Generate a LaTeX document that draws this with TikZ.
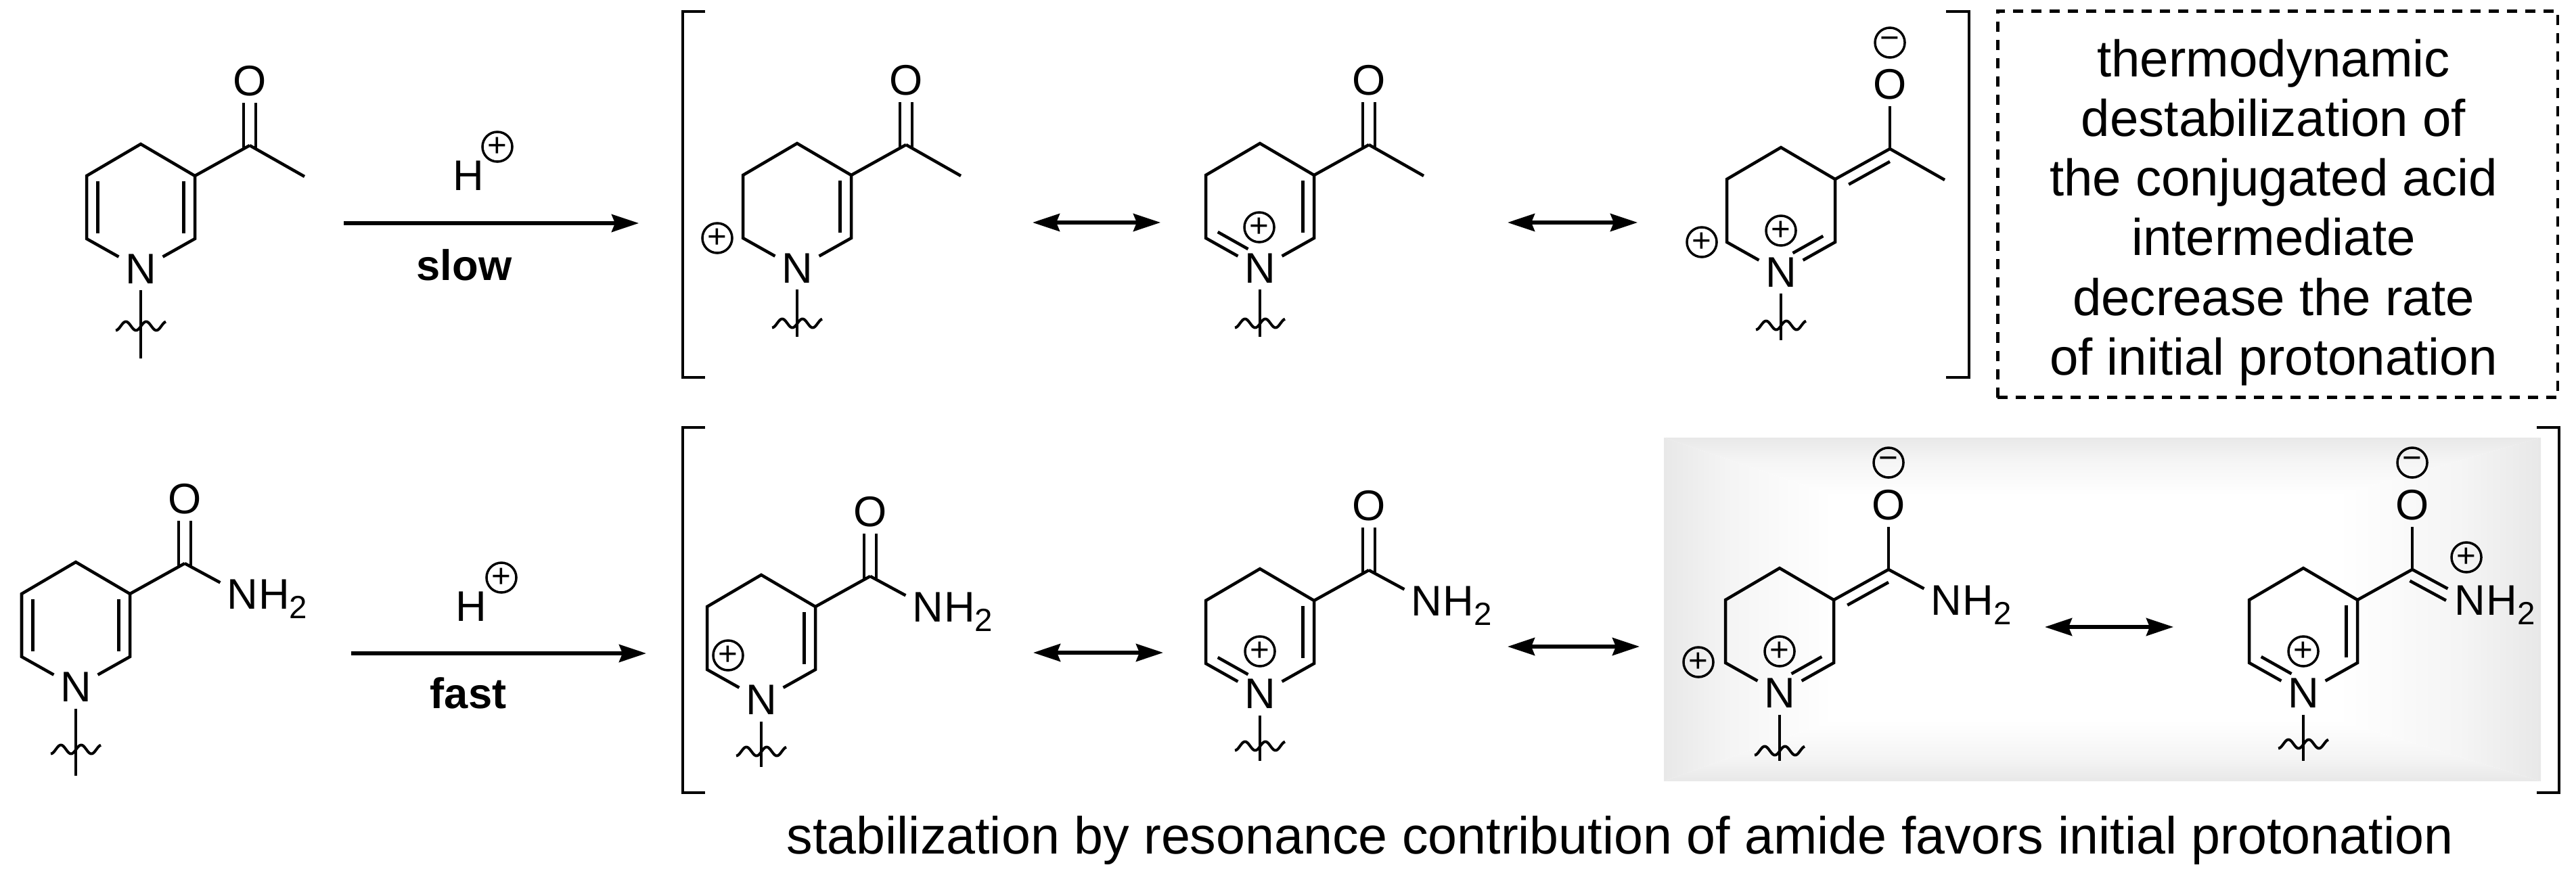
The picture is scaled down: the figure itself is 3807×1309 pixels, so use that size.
\documentclass[tikz,border=0pt]{standalone}
\usepackage{fontspec}
\setmainfont{Liberation Sans}
\usetikzlibrary{arrows.meta,calc}

\pgfdeclarehorizontalshading{edgeleft}{100bp}{rgb(0bp)=(.91,.91,.91);rgb(25bp)=(.91,.91,.91);rgb(45bp)=(.96,.96,.96);rgb(75bp)=(1,1,1);rgb(100bp)=(1,1,1)}
\pgfdeclarehorizontalshading{edgeright}{100bp}{rgb(0bp)=(1,1,1);rgb(25bp)=(1,1,1);rgb(55bp)=(.96,.96,.96);rgb(75bp)=(.91,.91,.91);rgb(100bp)=(.91,.91,.91)}
\pgfdeclareverticalshading{edgetop}{100bp}{rgb(0bp)=(1,1,1);rgb(25bp)=(1,1,1);rgb(55bp)=(.96,.96,.96);rgb(75bp)=(.91,.91,.91);rgb(100bp)=(.91,.91,.91)}
\pgfdeclareverticalshading{edgebottom}{100bp}{rgb(0bp)=(.91,.91,.91);rgb(25bp)=(.91,.91,.91);rgb(45bp)=(.96,.96,.96);rgb(75bp)=(1,1,1);rgb(100bp)=(1,1,1)}

% ring: name, top x, top y, wiggle y, tail length
\newcommand{\dhpring}[5]{
  \begin{scope}[shift={(#2,#3)}]
    \coordinate (#1t)  at (0,0);
    \coordinate (#1ul) at (-80,47);
    \coordinate (#1ll) at (-80,140);
    \coordinate (#1ur) at (80,47);
    \coordinate (#1lr) at (80,140);
    \coordinate (#1c)  at (161,2);
    \coordinate (#1e)  at (0,185+#5);
    \node[atom] (#1n) at (0,185) {N};
    \draw[bond] (#1n) -- (#1ll) -- (#1ul) -- (#1t) -- (#1ur) -- (#1lr) -- (#1n);
    \draw[bond] (#1ur) -- (#1c);
    \draw[bond] (#1n) -- (#1e);
    \draw[wiggle] plot[domain=-37:37, samples=50] (\x,{#4+6.5*cos((\x+37)*12)});
  \end{scope}}
% inner line of a double bond: from, to, offset, start, stop
\newcommand{\inbond}[5]{
  \draw[bond] ($(#1)!#4!(#2)!#3!90:(#2)$) -- ($(#1)!#5!(#2)!#3!90:(#2)$);}
% oxygen above the carbon, with its double bond
\newcommand{\oxygen}[1]{
  \node[atom] (#1o) at ([shift={(0,-95)}]#1c) {O};}
\newcommand{\carbonyl}[1]{
  \oxygen{#1}
  \foreach \s in {-9,9}
    \draw[bond] ([shift={(\s,5)}]#1c) -- ([shift={(\s,0)}]#1o.south);}
\newcommand{\methyl}[1]{
  \coordinate (#1m) at ([shift={(81,46)}]#1c);
  \draw[bond] (#1c) -- (#1m);}
\newcommand{\amino}[1]{
  \node[atom] (#1a) at ([shift={(85,46)}]#1c) {N};
  \node[atom, anchor=base west, inner sep=0pt] (#1h) at ([xshift=-0.09cm]#1a.base east)
    {H\raisebox{-0.14cm}{\fontsize{13.5}{15}\selectfont 2}};}

\begin{document}
\begin{tikzpicture}[x=0.01cm, y=-0.01cm,
                    atom/.style={font=\fontsize{18}{20}\selectfont, inner sep=0.09cm},
                    rate/.style={font=\fontsize{18}{20}\selectfont\bfseries, inner sep=0pt, anchor=base},
                    note/.style={font=\fontsize{21.7}{25.1}\selectfont, align=center, inner sep=0pt},
                    bond/.style={line width=0.045cm, line join=miter},
                    wiggle/.style={line width=0.04cm, line join=round},
                    bracket/.style={line width=0.045cm},
                    plus/.style={circle, draw, line width=0.035cm, minimum size=0.44cm, inner sep=0pt, font=\fontsize{14}{14}\selectfont},
                    rxn/.style={-{Stealth[length=0.4cm, width=0.26cm, inset=0.05cm]}, line width=0.055cm},
                    eqm/.style={{Stealth[length=0.4cm, width=0.26cm, inset=0.05cm]}-{Stealth[length=0.4cm, width=0.26cm, inset=0.05cm]}, line width=0.055cm},
                    notebox/.style={draw, line width=0.045cm, dash pattern=on 0.15cm off 0.12cm, minimum width=8.27cm, minimum height=5.71cm}]
    \useasboundingbox (0,0) rectangle (3807,1309);
    % shaded panel
    \shade[shading=edgetop] (2459,647) -- (3755,647) -- (3455,732) -- (2709,732) -- cycle;
    \shade[shading=edgebottom] (2709,1065) -- (3455,1065) -- (3755,1155) -- (2459,1155) -- cycle;
    \shade[shading=edgeleft] (2459,647) -- (2709,732) -- (2709,1065) -- (2459,1155) -- cycle;
    \shade[shading=edgeright] (3455,732) -- (3755,647) -- (3755,1155) -- (3455,1065) -- cycle;
    % first row
    \dhpring{a}{208}{213}{269}{132}
    \carbonyl{a} \methyl{a}
    \inbond{aul}{all}{0.165cm}{0.09}{0.91}
    \inbond{alr}{aur}{0.165cm}{0.09}{0.91}
    \dhpring{b}{1178}{212}{266}{101}
    \carbonyl{b} \methyl{b}
    \inbond{blr}{bur}{0.165cm}{0.09}{0.91}
    \node[plus] (bq) at (1060,352) {+};
    \dhpring{c}{1862}{212}{266}{101}
    \carbonyl{c} \methyl{c}
    \inbond{clr}{cur}{0.165cm}{0.09}{0.91}
    \inbond{cll}{cn}{0.165cm}{0.12}{0.68}
    \node[plus] (cq) at (1861,336) {+};
    \dhpring{d}{2632}{218}{263}{100}
    \oxygen{d} \methyl{d}
    \draw[bond] (dc) -- (do);
    \inbond{dc}{dur}{0.165cm}{0.1}{0.85}
    \inbond{dn}{dlr}{0.165cm}{0.32}{0.88}
    \node[plus] (dq) at (2515,358) {+};
    \node[plus] (dp) at (2632,341) {+};
    \node[plus] (dm) at ([shift={(0,-62)}]do) {−};
    % second row
    \dhpring{e}{112}{831}{277}{131}
    \carbonyl{e} \amino{e}
    \draw[bond] (ec) -- (ea);
    \inbond{eul}{ell}{0.165cm}{0.09}{0.91}
    \inbond{elr}{eur}{0.165cm}{0.09}{0.91}
    \dhpring{f}{1125}{850}{261}{99}
    \carbonyl{f} \amino{f}
    \draw[bond] (fc) -- (fa);
    \inbond{flr}{fur}{0.165cm}{0.09}{0.91}
    \node[plus] (fq) at (1076,969) {+};
    \dhpring{g}{1862}{841}{262}{99}
    \carbonyl{g} \amino{g}
    \draw[bond] (gc) -- (ga);
    \inbond{glr}{gur}{0.165cm}{0.09}{0.91}
    \inbond{gll}{gn}{0.165cm}{0.12}{0.68}
    \node[plus] (gq) at (1862,963) {+};
    \dhpring{h}{2630}{840}{270}{100}
    \oxygen{h} \amino{h}
    \draw[bond] (hc) -- (ho);
    \draw[bond] (hc) -- (ha);
    \inbond{hc}{hur}{0.165cm}{0.1}{0.85}
    \inbond{hn}{hlr}{0.165cm}{0.32}{0.88}
    \node[plus] (hq) at (2510,979) {+};
    \node[plus] (hp) at (2630,963) {+};
    \node[plus] (hm) at ([shift={(0,-63)}]ho) {−};
    \dhpring{i}{3404}{840}{260}{100}
    \oxygen{i} \amino{i}
    \draw[bond] (ic) -- (io);
    \draw[bond] (ic) -- (ia);
    \inbond{ia}{ic}{0.165cm}{0.32}{0.95}
    \inbond{ilr}{iur}{0.165cm}{0.09}{0.91}
    \inbond{ill}{in}{0.165cm}{0.12}{0.68}
    \node[plus] (ip) at (3404,963) {+};
    \node[plus] (iq) at (3645,824) {+};
    \node[plus] (im) at ([shift={(0,-63)}]io) {−};
    % brackets
    \draw[bracket] (1042,17) -| (1009,558) -- (1042,558);
    \draw[bracket] (2876,17) -| (2910,558) -- (2876,558);
    \draw[bracket] (1042,632) -| (1009,1172) -- (1042,1172);
    \draw[bracket] (3749,632) -| (3782,1172) -- (3749,1172);
    % reagents
    \node[atom] (ha1) at (692,260) {H};
    \node[plus] (hq1) at (735,217) {+};
    \node[rate] (slow) at (686,414) {slow};
    \node[atom] (ha2) at (696,897) {H};
    \node[plus] (hq2) at (741,854) {+};
    \node[rate] (fast) at (692,1047) {fast};
    % arrows
    \coordinate (r1s) at (508,330);
    \coordinate (r1e) at (944,330);
    \coordinate (r2s) at (519,966);
    \coordinate (r2e) at (955,966);
    \draw[rxn] (r1s) -- (r1e);
    \draw[rxn] (r2s) -- (r2e);
    \foreach \n/\xa/\xb/\yy in {p/1526/1715/329, q/2228/2420/329, s/1527/1719/965, t/2228/2423/956, u/3022/3212/927} {
        \coordinate (\n s) at (\xa,\yy);
        \coordinate (\n e) at (\xb,\yy);
        \draw[eqm] (\n s) -- (\n e);
    }
    % texts
    \node[notebox] (box) at (3366,302) {};
    \node[note] (boxtext) at (3360,314) {thermodynamic\\destabilization of\\the conjugated acid\\intermediate\\decrease the rate\\of initial protonation};
    \node[note, anchor=base west, font=\fontsize{21.95}{25}\selectfont] (caption) at (1162,1262) {stabilization by resonance contribution of amide favors initial protonation};
\end{tikzpicture}
\end{document}
